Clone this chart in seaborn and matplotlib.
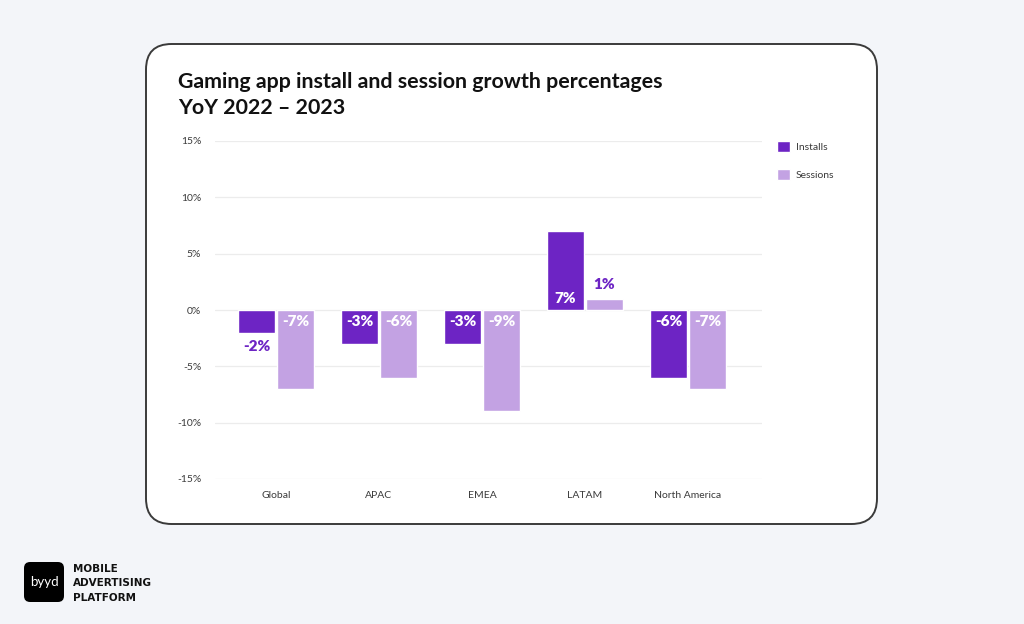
import pandas as pd
import seaborn as sns
import matplotlib.pyplot as plt
from matplotlib.patches import FancyBboxPatch

# Chart data
regions = ['Global', 'APAC', 'EMEA', 'LATAM', 'North America']
installs = [-2, -3, -3, 7, -6]
sessions = [-7, -6, -9, 1, -7]
series = ['Installs', 'Sessions']
yticks = [-15, -10, -5, 0, 5, 10, 15]

df = pd.DataFrame({
    'region': regions * 2,
    'metric': ['Installs'] * len(regions) + ['Sessions'] * len(regions),
    'value': installs + sessions,
})

sns.set_theme(style='white')
plt.rcParams['font.family'] = ['Lato', 'DejaVu Sans']

W, H = 1024, 624
fig = plt.figure(figsize=(W / 100, H / 100), dpi=100)
fig.patch.set_facecolor('#f3f5f9')

# white card behind the chart
card = FancyBboxPatch((146 / W, 1 - 524 / H), (877 - 146) / W, (524 - 44) / H,
                      boxstyle='round,pad=0,rounding_size=0.025',
                      transform=fig.transFigure, facecolor='white',
                      edgecolor='#3a3a3a', linewidth=1.4, zorder=-5,
                      mutation_aspect=W / H)
fig.patches.append(card)

ax = fig.add_axes([215 / W, 1 - 479 / H, (762 - 215) / W, (479 - 141) / H])
ax.set_facecolor('white')
ax.set_zorder(2)

colors = {'Installs': '#6d24c4', 'Sessions': '#c3a2e3'}
sns.barplot(data=df, x='region', y='value', hue='metric', hue_order=series,
            palette=colors, saturation=1, width=0.76, gap=0.04, ax=ax, legend=True)

ax.set_ylim(-15, 15)
ax.set_xlim(-0.592, 4.718)
ax.set_yticks(yticks)
ax.set_yticklabels([f'{t}%' for t in yticks], fontsize=7.5, color='#3a3a3a')
ax.tick_params(axis='x', labelsize=7.5, colors='#3a3a3a', length=0, pad=9)
ax.tick_params(axis='y', length=0, pad=10)
ax.set_xlabel('')
ax.set_ylabel('')
for t in yticks:
    ax.axhline(t, color='#ececec', linewidth=0.9, zorder=0)
for s in ax.spines.values():
    s.set_visible(False)

# value labels
for cont, name in zip(ax.containers, series):
    for bar, v in zip(cont, df.loc[df.metric == name, 'value']):
        xc = bar.get_x() + bar.get_width() / 2
        if abs(v) < 3:
            y = v + (-0.7 if v < 0 else 0.7)
            col = colors['Installs']
        else:
            y = -0.4 if v < 0 else 0.4
            col = 'white'
        ax.text(xc, y, f'{v}%', ha='center', va='top' if v < 0 else 'bottom',
                color=col, fontsize=11, fontweight='heavy', fontstretch='condensed')

leg = ax.legend(loc='upper left', bbox_to_anchor=(1.027, 1.0), frameon=False,
                fontsize=7.5, handlelength=1.3, handleheight=1.3, labelspacing=1.55,
                borderaxespad=0, borderpad=0, handletextpad=0.55)
for txt in leg.get_texts():
    txt.set_color('#3a3a3a')

fig.text(178 / W, 1 - 82 / H, 'Gaming app install and session growth percentages',
         fontsize=15.4, fontweight='bold', color='#111111', va='center')
fig.text(178 / W, 1 - 108 / H, 'YoY 2022 \u2013 2023',
         fontsize=15.4, fontweight='bold', color='#111111', va='center')

# logo
logo = FancyBboxPatch((24 / W, 1 - 602 / H), 40 / W, 40 / H,
                      boxstyle='round,pad=0,rounding_size=0.006',
                      transform=fig.transFigure, facecolor='black',
                      edgecolor='none', mutation_aspect=W / H)
fig.patches.append(logo)
fig.text(44 / W, 1 - 582 / H, 'byyd', color='white', fontsize=9.5,
         ha='center', va='center')
for i, word in enumerate(['MOBILE', 'ADVERTISING', 'PLATFORM']):
    fig.text(73 / W, 1 - (569 + i * 14.5) / H, word, fontsize=7.5, fontweight='bold',
             color='#111111', va='center', family='DejaVu Sans')

fig.savefig('out.png', dpi=100, facecolor=fig.get_facecolor())
